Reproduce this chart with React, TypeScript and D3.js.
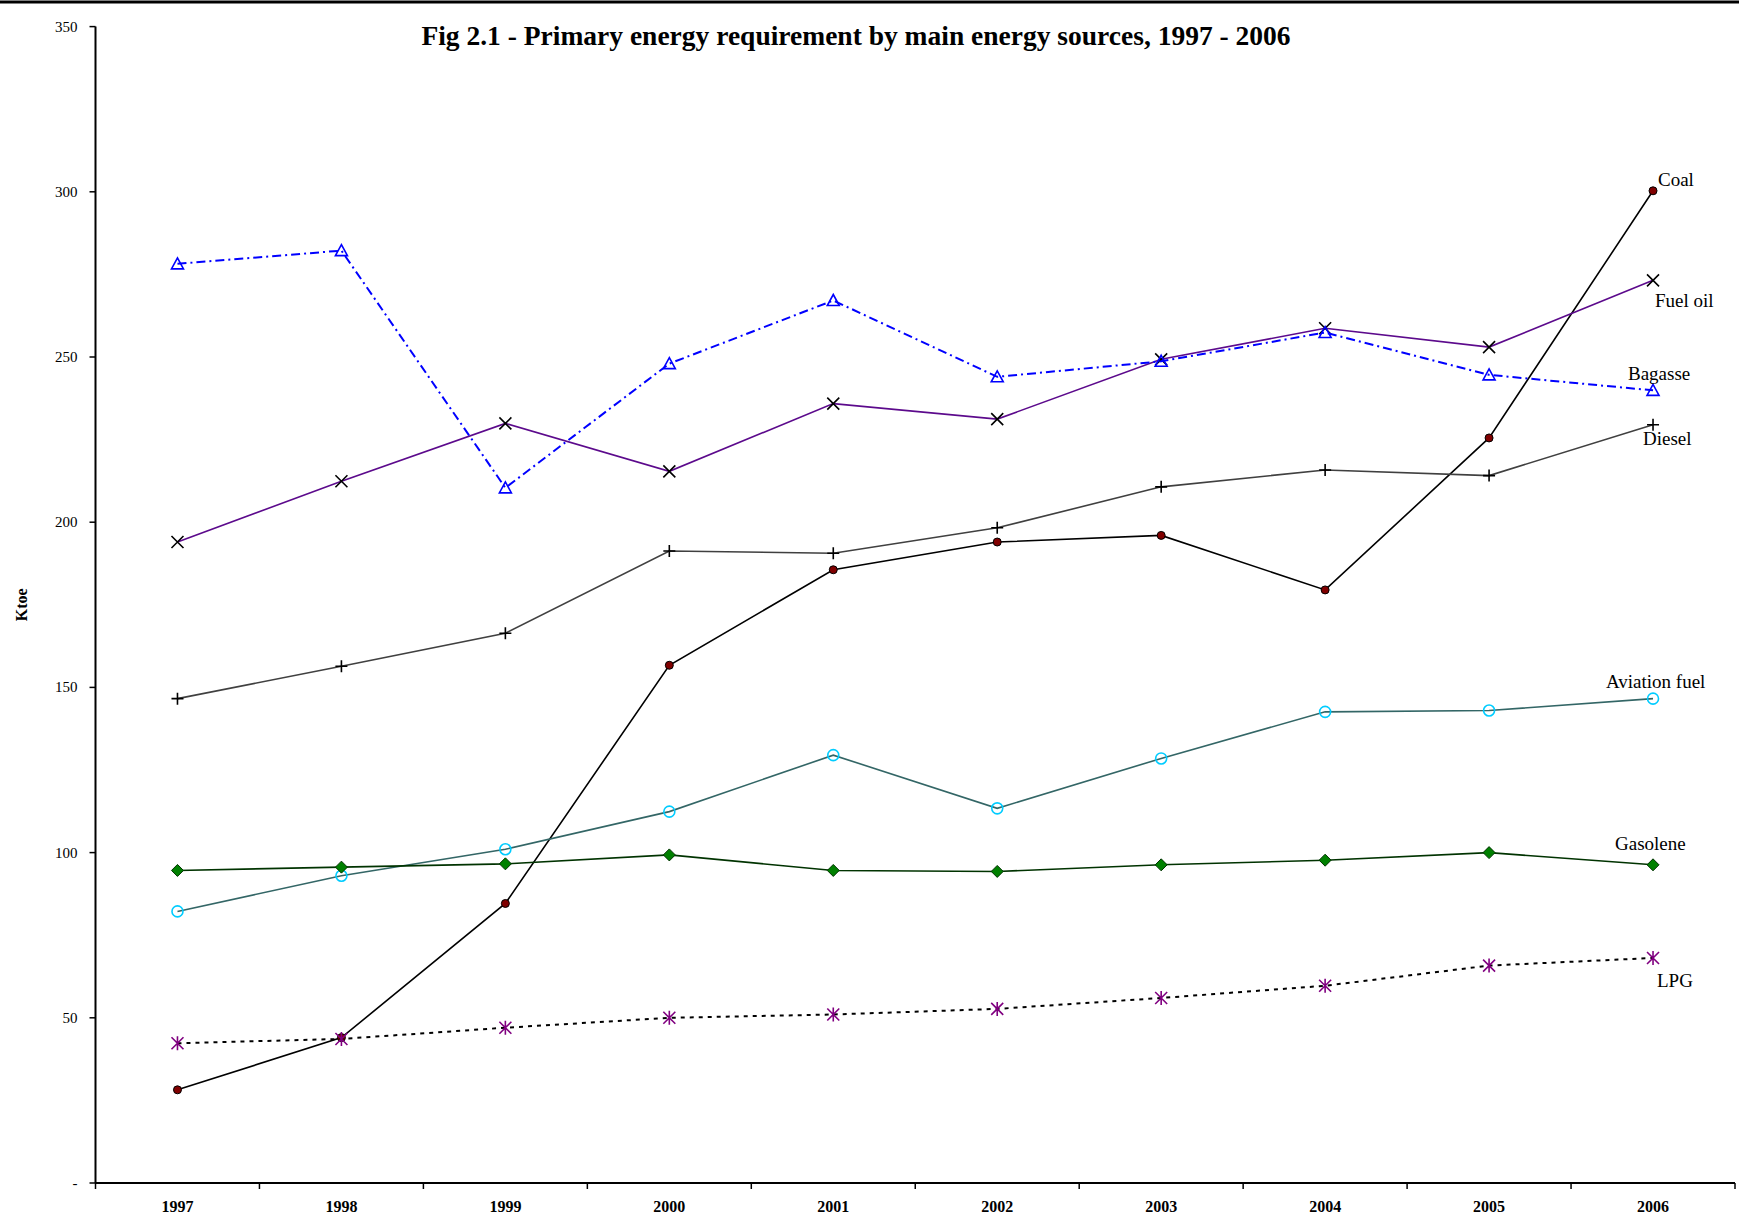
import React, { useEffect, useRef } from 'react';
import * as d3 from 'd3';

const years = ['1997', '1998', '1999', '2000', '2001', '2002', '2003', '2004', '2005', '2006'];
const coal = [28.2, 44, 84.6, 156.7, 185.6, 194, 196, 179.5, 225.5, 300.3];
const fuelOil = [194, 212.4, 229.9, 215.4, 235.9, 231.2, 249.3, 258.7, 253, 273.2];
const bagasse = [278.2, 282.2, 210.4, 248, 267.1, 244, 248.7, 257.4, 244.6, 239.9];
const diesel = [146.6, 156.4, 166.4, 191.3, 190.6, 198.3, 210.7, 215.8, 214.1, 229.5];
const aviationFuel = [82.2, 93, 101, 112.4, 129.5, 113.4, 128.5, 142.6, 143, 146.6];
const gasolene = [94.6, 95.6, 96.6, 99.3, 94.6, 94.3, 96.3, 97.7, 100, 96.3];
const lpg = [42.3, 43.6, 47, 50, 51, 52.7, 56, 59.7, 65.8, 68.1];
const yTicks = [0, 50, 100, 150, 200, 250, 300, 350];

const W = 1739;
const H = 1230;

type Marker = 'circle' | 'x' | 'triangle' | 'plus' | 'ocircle' | 'diamond' | 'star';

const series: {
  name: string; values: number[]; line: string; dash: string | null;
  marker: Marker; mFill: string; mStroke: string; dx: number; dy: number;
}[] = [
  { name: 'Coal', values: coal, line: '#000000', dash: null, marker: 'circle', mFill: '#800000', mStroke: '#000', dx: 5, dy: -5 },
  { name: 'Fuel oil', values: fuelOil, line: '#5c0a8c', dash: null, marker: 'x', mFill: 'none', mStroke: '#000', dx: 2, dy: 27 },
  { name: 'Bagasse', values: bagasse, line: '#0000ff', dash: '9,4,2,4', marker: 'triangle', mFill: 'none', mStroke: '#0000ff', dx: -25, dy: -10 },
  { name: 'Diesel', values: diesel, line: '#404040', dash: null, marker: 'plus', mFill: 'none', mStroke: '#000', dx: -10, dy: 20 },
  { name: 'Aviation fuel', values: aviationFuel, line: '#336666', dash: null, marker: 'ocircle', mFill: 'none', mStroke: '#00ccff', dx: -47, dy: -11 },
  { name: 'Gasolene', values: gasolene, line: '#003300', dash: null, marker: 'diamond', mFill: '#008000', mStroke: '#003300', dx: -38, dy: -15 },
  { name: 'LPG', values: lpg, line: '#000000', dash: '4,5', marker: 'star', mFill: 'none', mStroke: '#800080', dx: 4, dy: 29 },
];

const App: React.FC = () => {
  const ref = useRef<SVGSVGElement>(null);

  useEffect(() => {
    if (!ref.current) return;
    const svg = d3.select(ref.current);
    svg.selectAll('*').remove();

    const left = 95.5, right = 1735, top = 26.6, bottom = 1183;
    const x = d3.scaleBand().domain(years).range([left, right]);
    const y = d3.scaleLinear().domain([0, 350]).range([bottom, top]);
    const cx = (i: number) => (x(years[i]) as number) + x.bandwidth() / 2;

    // top rule
    svg.append('line').attr('x1', 0).attr('x2', W).attr('y1', 2).attr('y2', 2)
      .attr('stroke', '#000').attr('stroke-width', 3);

    // title
    svg.append('text').attr('x', 856).attr('y', 45).attr('text-anchor', 'middle')
      .attr('font-family', '"Liberation Serif", "Times New Roman", serif')
      .attr('font-weight', 'bold').attr('font-size', 27.5)
      .text('Fig 2.1 - Primary energy requirement by main energy sources, 1997 - 2006');

    // y axis
    const yAxis = svg.append('g');
    yAxis.append('line').attr('x1', left).attr('x2', left).attr('y1', top).attr('y2', bottom)
      .attr('stroke', '#000').attr('stroke-width', 2);
    yTicks.forEach(t => {
      yAxis.append('line').attr('x1', left - 6).attr('x2', left).attr('y1', y(t)).attr('y2', y(t))
        .attr('stroke', '#000').attr('stroke-width', 1.5);
      yAxis.append('text').attr('x', left - 18).attr('y', y(t) + 5).attr('text-anchor', 'end')
        .attr('font-family', '"Liberation Serif", "Times New Roman", serif').attr('font-size', 15)
        .text(t === 0 ? '-' : String(t));
    });
    svg.append('text').attr('transform', `translate(27,${(top + bottom) / 2}) rotate(-90)`)
      .attr('text-anchor', 'middle').attr('font-family', '"Liberation Serif", "Times New Roman", serif')
      .attr('font-weight', 'bold').attr('font-size', 16).text('Ktoe');

    // x axis
    const xAxis = svg.append('g');
    xAxis.append('line').attr('x1', left).attr('x2', right).attr('y1', bottom).attr('y2', bottom)
      .attr('stroke', '#000').attr('stroke-width', 2);
    years.forEach((yr, i) => {
      const x0 = x(yr) as number;
      xAxis.append('line').attr('x1', x0).attr('x2', x0).attr('y1', bottom).attr('y2', bottom + 6)
        .attr('stroke', '#000').attr('stroke-width', 1.5);
      xAxis.append('text').attr('x', cx(i)).attr('y', bottom + 29).attr('text-anchor', 'middle')
        .attr('font-family', '"Liberation Serif", "Times New Roman", serif').attr('font-weight', 'bold')
        .attr('font-size', 16).text(yr);
    });
    xAxis.append('line').attr('x1', right).attr('x2', right).attr('y1', bottom).attr('y2', bottom + 6)
      .attr('stroke', '#000').attr('stroke-width', 1.5);

    const line = d3.line<number>().x((_, i) => cx(i)).y(d => y(d));

    series.forEach(s => {
      const g = svg.append('g');
      g.append('path').attr('d', line(s.values)).attr('fill', 'none')
        .attr('stroke', s.line).attr('stroke-width', s.dash ? 2 : 1.6)
        .attr('stroke-dasharray', s.dash ?? null);

      s.values.forEach((v, i) => {
        const px = cx(i), py = y(v);
        const m = g.append('g').attr('transform', `translate(${px},${py})`);
        switch (s.marker) {
          case 'circle':
            m.append('circle').attr('r', 4).attr('fill', s.mFill).attr('stroke', s.mStroke).attr('stroke-width', 1);
            break;
          case 'ocircle':
            m.append('circle').attr('r', 5.5).attr('fill', 'none').attr('stroke', s.mStroke).attr('stroke-width', 1.6);
            break;
          case 'triangle':
            m.append('path').attr('d', 'M0,-6L6,5L-6,5Z').attr('fill', 'none')
              .attr('stroke', s.mStroke).attr('stroke-width', 1.6);
            break;
          case 'diamond':
            m.append('path').attr('d', 'M0,-6L6,0L0,6L-6,0Z').attr('fill', s.mFill)
              .attr('stroke', s.mStroke).attr('stroke-width', 1);
            break;
          case 'x':
            m.append('path').attr('d', 'M-6,-6L6,6M-6,6L6,-6').attr('stroke', s.mStroke).attr('stroke-width', 1.6);
            break;
          case 'plus':
            m.append('path').attr('d', 'M-6,0L6,0M0,-6L0,6').attr('stroke', s.mStroke).attr('stroke-width', 1.6);
            break;
          case 'star':
            m.append('path').attr('d', 'M-6,-6L6,6M-6,6L6,-6M0,-7L0,7').attr('stroke', s.mStroke).attr('stroke-width', 1.6);
            break;
        }
      });

      const last = s.values.length - 1;
      svg.append('text').attr('x', cx(last) + s.dx).attr('y', y(s.values[last]) + s.dy)
        .attr('font-family', '"Liberation Serif", "Times New Roman", serif').attr('font-size', 19)
        .attr('fill', '#000').text(s.name);
    });
  }, []);

  return (
    <div style={{ position: 'absolute', left: 0, top: 0, width: W, height: H, background: '#fff' }}>
      <svg ref={ref} width={W} height={H} />
    </div>
  );
};

export default App;
